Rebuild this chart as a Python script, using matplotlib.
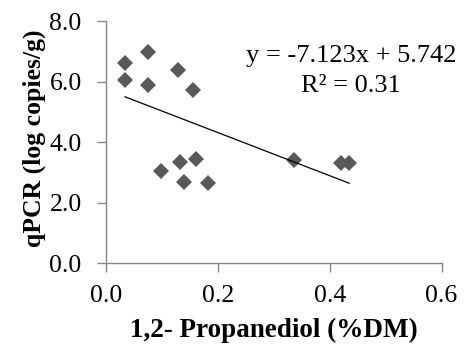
import numpy as np
import matplotlib
matplotlib.use('Agg')
import matplotlib.pyplot as plt

# Propanediol content (%DM) vs. qPCR counts (log copies/g)
propanediol = [0.034, 0.034, 0.076, 0.076, 0.129, 0.155, 0.098,
               0.133, 0.161, 0.140, 0.182, 0.337, 0.420, 0.435]
qpcr = [6.60, 6.05, 6.99, 5.89, 6.40, 5.74, 3.06,
        3.36, 3.43, 2.70, 2.66, 3.41, 3.30, 3.30]

slope = -7.123
intercept = 5.742
r_squared = 0.31

x_ticks = [0.0, 0.2, 0.4, 0.6]
y_ticks = [0.0, 2.0, 4.0, 6.0, 8.0]

plt.rcParams['font.family'] = ['Liberation Serif', 'DejaVu Serif']

fig = plt.figure(figsize=(4.7, 3.49), dpi=100)
ax = fig.add_axes([0.2255, 0.2456, 0.714, 0.694])

ax.plot(propanediol, qpcr, linestyle='none', marker='D', markersize=8.6,
        color='#595959', markeredgewidth=0)

# linear trendline over the data range
xs = np.array([min(propanediol), max(propanediol)])
ax.plot(xs, slope * xs + intercept, color='black', linewidth=0.9)

ax.text(0.438, 6.36, f'y = {slope}x + {intercept}\nR² = {r_squared}',
        fontsize=19, ha='center', va='center', linespacing=1.45)

ax.set_xlim(0, 0.6)
ax.set_ylim(0, 8)
ax.set_xticks(x_ticks)
ax.set_yticks(y_ticks)
ax.set_xticklabels([f'{v:.1f}' for v in x_ticks])
ax.set_yticklabels([f'{v:.1f}' for v in y_ticks])

for side in ('top', 'right'):
    ax.spines[side].set_visible(False)
for side in ('left', 'bottom'):
    ax.spines[side].set_color('#868686')
    ax.spines[side].set_linewidth(1.0)

ax.tick_params(axis='both', direction='out', length=6.5, width=1.0,
               color='#868686', labelsize=18.5, labelcolor='black')
ax.tick_params(axis='x', pad=9)
ax.tick_params(axis='y', pad=11)

ax.set_xlabel('1,2- Propanediol (%DM)', fontsize=19.5, fontweight='bold',
              labelpad=8)
ax.set_ylabel('qPCR (log copies/g)', fontsize=18.5, fontweight='bold')
ax.yaxis.set_label_coords(-0.18, 0.515)

fig.savefig('out.png', dpi=100)
